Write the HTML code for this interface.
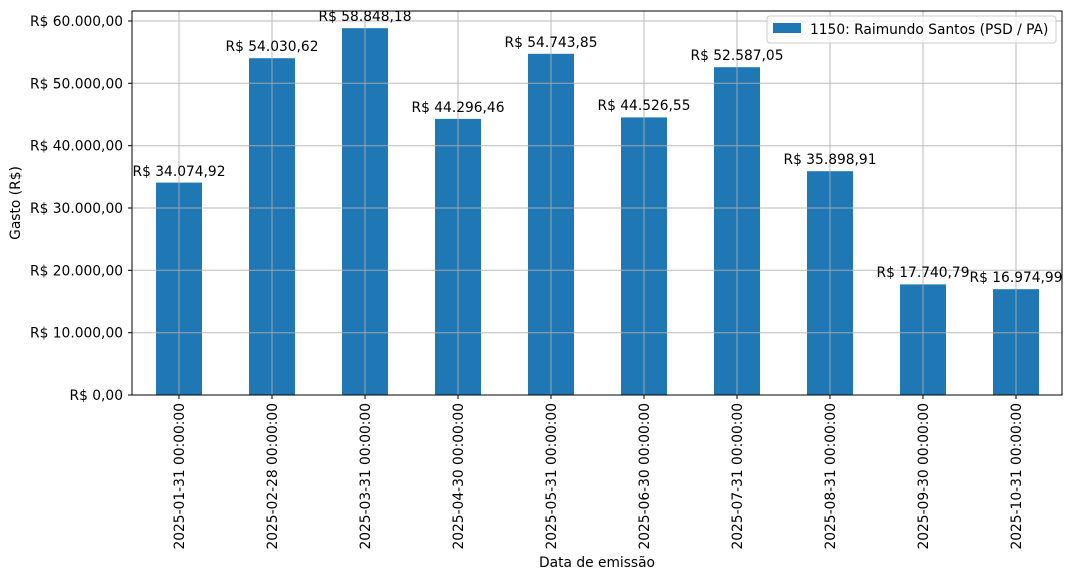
<!DOCTYPE html>
<html><head><meta charset="utf-8"><style>body{margin:0;background:#fff}svg{display:block}text{font-family:"DejaVu Sans",sans-serif;font-size:13.8px;fill:#000}</style></head><body>
<svg width="1072" height="580" xmlns="http://www.w3.org/2000/svg">
<rect width="1072" height="580" fill="#fff"/>
<g fill="#1f77b4">
<rect x="156" y="182.6" width="46" height="212.4"/>
<rect x="249" y="58.2" width="46" height="336.8"/>
<rect x="342" y="28.2" width="46" height="366.8"/>
<rect x="435" y="118.9" width="46" height="276.1"/>
<rect x="528" y="53.8" width="46" height="341.2"/>
<rect x="621" y="117.4" width="46" height="277.6"/>
<rect x="714" y="67.2" width="46" height="327.8"/>
<rect x="807" y="171.2" width="46" height="223.8"/>
<rect x="900" y="284.4" width="46" height="110.6"/>
<rect x="993" y="289.2" width="46" height="105.8"/>
</g>
<g stroke="#b0b0b0" stroke-width="1" opacity="0.85">
<line x1="132" x2="1062" y1="332.7" y2="332.7"/><line x1="132" x2="1062" y1="270.3" y2="270.3"/><line x1="132" x2="1062" y1="208" y2="208"/><line x1="132" x2="1062" y1="145.7" y2="145.7"/><line x1="132" x2="1062" y1="83.3" y2="83.3"/><line x1="132" x2="1062" y1="21" y2="21"/>
<line x1="179" x2="179" y1="11" y2="395"/><line x1="272" x2="272" y1="11" y2="395"/><line x1="365" x2="365" y1="11" y2="395"/><line x1="458" x2="458" y1="11" y2="395"/><line x1="551" x2="551" y1="11" y2="395"/><line x1="644" x2="644" y1="11" y2="395"/><line x1="737" x2="737" y1="11" y2="395"/><line x1="830" x2="830" y1="11" y2="395"/><line x1="923" x2="923" y1="11" y2="395"/><line x1="1016" x2="1016" y1="11" y2="395"/>
</g>
<rect x="132" y="11" width="930" height="384" fill="none" stroke="#000" stroke-width="1"/>
<g stroke="#000"><line x1="128" x2="132" y1="395" y2="395"/><line x1="128" x2="132" y1="332.7" y2="332.7"/><line x1="128" x2="132" y1="270.3" y2="270.3"/><line x1="128" x2="132" y1="208" y2="208"/><line x1="128" x2="132" y1="145.7" y2="145.7"/><line x1="128" x2="132" y1="83.3" y2="83.3"/><line x1="128" x2="132" y1="21" y2="21"/>
<line x1="179" x2="179" y1="395" y2="399"/><line x1="272" x2="272" y1="395" y2="399"/><line x1="365" x2="365" y1="395" y2="399"/><line x1="458" x2="458" y1="395" y2="399"/><line x1="551" x2="551" y1="395" y2="399"/><line x1="644" x2="644" y1="395" y2="399"/><line x1="737" x2="737" y1="395" y2="399"/><line x1="830" x2="830" y1="395" y2="399"/><line x1="923" x2="923" y1="395" y2="399"/><line x1="1016" x2="1016" y1="395" y2="399"/></g>
<g text-anchor="end">
<text x="123" y="400">R$ 0,00</text><text x="123" y="337.7">R$ 10.000,00</text><text x="123" y="275.3">R$ 20.000,00</text><text x="123" y="213">R$ 30.000,00</text><text x="123" y="150.7">R$ 40.000,00</text><text x="123" y="88.3">R$ 50.000,00</text><text x="123" y="26">R$ 60.000,00</text>
</g>
<g text-anchor="end">
<text transform="translate(184,403) rotate(-90)">2025-01-31 00:00:00</text>
<text transform="translate(277,403) rotate(-90)">2025-02-28 00:00:00</text>
<text transform="translate(370,403) rotate(-90)">2025-03-31 00:00:00</text>
<text transform="translate(463,403) rotate(-90)">2025-04-30 00:00:00</text>
<text transform="translate(556,403) rotate(-90)">2025-05-31 00:00:00</text>
<text transform="translate(649,403) rotate(-90)">2025-06-30 00:00:00</text>
<text transform="translate(742,403) rotate(-90)">2025-07-31 00:00:00</text>
<text transform="translate(835,403) rotate(-90)">2025-08-31 00:00:00</text>
<text transform="translate(928,403) rotate(-90)">2025-09-30 00:00:00</text>
<text transform="translate(1021,403) rotate(-90)">2025-10-31 00:00:00</text>
</g>
<g text-anchor="middle">
<text x="179" y="176">R$ 34.074,92</text><text x="272" y="51">R$ 54.030,62</text><text x="365" y="21">R$ 58.848,18</text><text x="458" y="112">R$ 44.296,46</text><text x="551" y="47">R$ 54.743,85</text><text x="644" y="110">R$ 44.526,55</text><text x="737" y="60">R$ 52.587,05</text><text x="830" y="164">R$ 35.898,91</text><text x="923" y="277">R$ 17.740,79</text><text x="1016" y="282">R$ 16.974,99</text>
<text x="597" y="567">Data de emissão</text>
<text transform="translate(20,203) rotate(-90)">Gasto (R$)</text>
</g>
<rect x="767" y="16" width="289" height="27" rx="3" fill="#fff" fill-opacity="0.8" stroke="#ccc"/>
<rect x="773" y="23" width="28" height="10" fill="#1f77b4"/>
<text x="810" y="34">1150: Raimundo Santos (PSD / PA)</text>
</svg>
</body></html>
